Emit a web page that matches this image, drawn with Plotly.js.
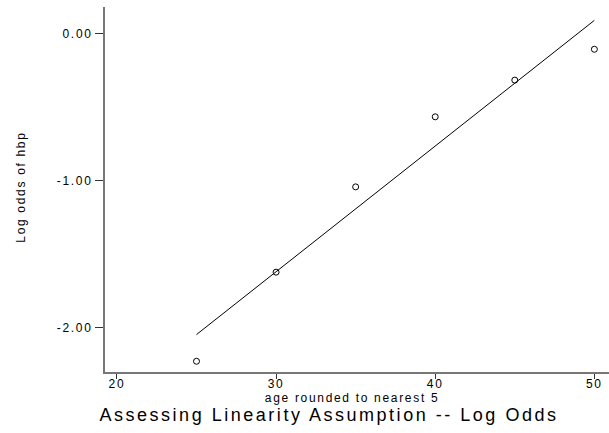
<!DOCTYPE html>
<html>
<head>
<meta charset="utf-8">
<script src="https://cdn.plot.ly/plotly-3.0.1.min.js"></script>
<style>
html,body{margin:0;padding:0;background:#fff;}
#chart{width:609px;height:433px;}
#chart text{letter-spacing:0.14em;}
</style>
</head>
<body>
<div id="chart"></div>
<script>
// Observed log odds by age group
const ageGroups = [25, 30, 35, 40, 45, 50];
const logOdds = [-2.231, -1.624, -1.043, -0.566, -0.316, -0.106];
// Fitted linear line (endpoints)
const fitAge = [25, 50];
const fitLogOdds = [-2.049, 0.091];
// Axis ticks
const xTicks = [20, 30, 40, 50];
const xTickLabels = ['20', '30', '40', '50'];
const yTicks = [0, -1, -2];
const yTickLabels = ['0.00', '-1.00', '-2.00'];

const font = 'Liberation Sans, Arial, Helvetica, sans-serif';

const traces = [
  {
    x: fitAge, y: fitLogOdds, type: 'scatter', mode: 'lines',
    line: {color: '#000', width: 1}, hoverinfo: 'skip'
  },
  {
    x: ageGroups, y: logOdds, type: 'scatter', mode: 'markers',
    marker: {symbol: 'circle-open', size: 6, color: '#000', line: {width: 1, color: '#000'}}
  }
];

const layout = {
  width: 609, height: 433,
  margin: {l: 105, r: 0, t: 7, b: 61},
  paper_bgcolor: '#fff', plot_bgcolor: '#fff',
  showlegend: false,
  font: {family: font, color: '#000', size: 12},
  title: {
    text: 'Assessing Linearity Assumption -- Log Odds',
    font: {family: font, size: 18, color: '#000'},
    xref: 'paper', x: 0.4444, xanchor: 'center',
    yref: 'container', y: 1 - 415/433, yanchor: 'middle'
  },
  xaxis: {
    range: [19.25, 50.92],
    tickmode: 'array', tickvals: xTicks, ticktext: xTickLabels,
    ticks: 'outside', ticklen: 5, tickwidth: 1, tickcolor: '#333',
    ticklabelstandoff: -5,
    showline: true, linecolor: '#777', linewidth: 2,
    showgrid: false, zeroline: false,
    tickfont: {family: font, size: 12, color: '#000'}
  },
  yaxis: {
    range: [-2.304, 0.182],
    tickmode: 'array', tickvals: yTicks, ticktext: yTickLabels,
    ticks: 'outside', ticklen: 8, tickwidth: 1.5, tickcolor: '#333',
    showline: true, linecolor: '#777', linewidth: 2,
    showgrid: false, zeroline: false,
    tickfont: {family: font, size: 12, color: '#000'}
  },
  annotations: [
    {
      text: 'age rounded to nearest 5', showarrow: false,
      xref: 'paper', yref: 'paper', x: 0.4895, y: -0.0725,
      xanchor: 'center', yanchor: 'middle',
      font: {family: font, size: 12, color: '#000'}
    },
    {
      text: 'Log odds of hbp', showarrow: false, textangle: -90,
      xref: 'paper', yref: 'paper', x: -0.1667, y: 0.5065,
      xanchor: 'center', yanchor: 'middle',
      font: {family: font, size: 12, color: '#000'}
    }
  ]
};

Plotly.newPlot('chart', traces, layout, {displayModeBar: false, staticPlot: true});
</script>
</body>
</html>
